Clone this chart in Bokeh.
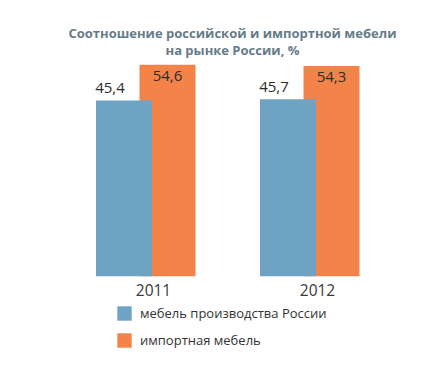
from bokeh.plotting import figure
from bokeh.models import Range1d, ColumnDataSource, Label, Legend, LegendItem
from bokeh.core.properties import value
from bokeh.embed import file_html
from bokeh.resources import INLINE

# ---- data ----
years = ["2011", "2012"]
russian = [45.4, 45.7]
imported = [54.6, 54.3]
series_names = ["мебель производства России", "импортная мебель"]
title_lines = ["Соотношение российской и импортной мебели", "на рынке России, %"]

BLUE = "#6fa3c4"
ORANGE = "#f4834a"
FONT = "Open Sans"

W, H = 445, 377
p = figure(width=W, height=H, output_backend="svg", toolbar_location=None,
           x_axis_location=None, y_axis_location=None, min_border=0,
           outline_line_color=None)
p.x_range = Range1d(0, W)
zero_px, scale = 275.7, 3.872
p.y_range = Range1d(-(H - zero_px) / scale, zero_px / scale)
p.xgrid.visible = False
p.ygrid.visible = False
p.background_fill_color = "white"
p.border_fill_color = "white"

gc = [145 + 164 * i for i in range(len(years))]
bw = 56
src = ColumnDataSource(dict(
    year=years,
    gc=gc,
    xb=[g - 21.5 for g in gc],
    xo=[g + 22 for g in gc],
    rus=russian,
    imp=imported,
    rus_lbl=[str(v).replace(".", ",") for v in russian],
    imp_lbl=[str(v).replace(".", ",") for v in imported],
    xbl=[g - 35.5 for g in gc],
    xyl=[g + 8 for g in gc],
    zero=[0] * len(years),
))

r_o = p.vbar(x="xo", top="imp", bottom=0, width=bw, source=src,
             fill_color=ORANGE, line_color=None)
r_b = p.vbar(x="xb", top="rus", bottom=0, width=bw, source=src,
             fill_color=BLUE, line_color=None)

p.text(x="xbl", y="rus", text="rus_lbl", source=src, text_align="center",
       text_baseline="middle", y_offset=-12.5, text_font=value(FONT),
       text_font_size="15px", text_color="#2b2b2b")
p.text(x="xo", y="imp", text="imp_lbl", source=src, text_align="center",
       text_baseline="middle", y_offset=11.5, text_font=value(FONT),
       text_font_size="15px", text_color="#2b2b2b")
p.text(x="xyl", y="zero", text="year", source=src, text_align="center",
       text_baseline="middle", y_offset=13.5, text_font=value(FONT),
       text_font_size="15.5px", text_color="#3a3a3a")

for i, (t, yb) in enumerate(zip(title_lines, [344.5, 328])):
    p.add_layout(Label(x=232, y=yb, x_units="screen", y_units="screen",
                       text=t, text_align="center", text_baseline="alphabetic",
                       text_font=FONT, text_font_size="13px",
                       text_font_style="bold", text_color="#667b88"))

legend = Legend(items=[LegendItem(label=series_names[0], renderers=[r_b]),
                       LegendItem(label=series_names[1], renderers=[r_o])],
                location=(115, H - 349.3), orientation="vertical",
                glyph_width=18, glyph_height=18, label_height=18,
                spacing=9, label_standoff=7, padding=0, margin=0,
                border_line_alpha=0, background_fill_alpha=0,
                label_text_font=FONT, label_text_font_size="13px",
                label_text_color="#333333", label_text_baseline="middle")
p.add_layout(legend)

open("out.html", "w").write(file_html(p, INLINE))
